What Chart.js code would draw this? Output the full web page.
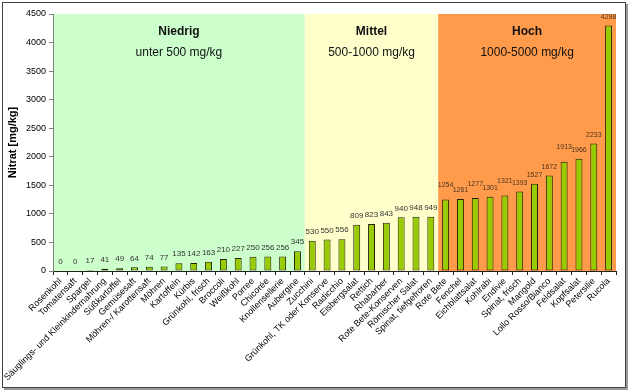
<!DOCTYPE html>
<html>
<head>
<meta charset="utf-8">
<script src="https://cdn.jsdelivr.net/npm/chart.js@4"></script>
<style>
html,body{margin:0;padding:0;background:#fff;}
#wrap{position:relative;width:630px;height:391px;}
#frame{position:absolute;left:2px;top:2px;width:622px;height:384px;border:1px solid #404040;box-shadow:2px 2px 0 #9a9a9a;pointer-events:none;}
</style>
</head>
<body>
<div id="wrap">
<canvas id="chart" width="630" height="391"></canvas>
<div id="frame"></div>
</div>
<script>
const categories=['Rosenkohl','Tomatensaft','Spargel','Säuglings- und Kleinkindernahrung','Süßkartoffel','Gemüsesaft','Möhren-/ Karottensaft','Möhren','Kartoffeln','Kürbis','Grünkohl, frisch','Broccoli','Weißkohl','Porree','Chicorée','Knollensellerie','Aubergine',
'Zucchini','Grünkohl, TK oder Konserve','Radicchio','Eisbergsalat','Rettich','Rhabarber','Rote Bete-Konserven','Römischer Salat','Spinat, tiefgefroren',
'Rote Bete','Fenchel','Eichblattsalat','Kohlrabi','Endivie','Spinat, frisch','Mangold','Lollo Rosso/Bianco','Feldsalat','Kopfsalat','Petersilie','Rucola'];
const nitrat=[0,0,17,41,49,64,74,77,135,142,163,210,227,250,256,256,345,
530,550,556,809,823,843,940,948,949,
1254,1261,1277,1301,1321,1393,1527,1672,1913,1966,2233,4298];
const yTicks=[0,500,1000,1500,2000,2500,3000,3500,4000,4500];
const zoneNames=['Niedrig','Mittel','Hoch'];
const zoneTexts=['unter 500 mg/kg','500-1000 mg/kg','1000-5000 mg/kg'];
const zoneFirst=[0,17,26];
const zoneLast=[16,25,37];
const zoneColors=['#CCFFCC','#FFFFCC','#FF9B4B'];
const FONT='"Liberation Sans", Arial, sans-serif';

const zonePlugin={
  id:'zones',
  beforeDatasetsDraw(chart){
    const {ctx,chartArea:a,scales:{x}}=chart;
    const half=(x.getPixelForValue(1)-x.getPixelForValue(0))/2;
    ctx.save();
    zoneNames.forEach((n,i)=>{
      const l=i===0?a.left:x.getPixelForValue(zoneFirst[i])-half;
      const r=i===zoneNames.length-1?a.right:x.getPixelForValue(zoneLast[i])+half;
      ctx.fillStyle=zoneColors[i];
      ctx.fillRect(l,a.top,r-l,a.bottom-a.top);
      const cx=(l+r)/2;
      ctx.fillStyle='#111';ctx.textAlign='center';ctx.textBaseline='middle';
      ctx.font='bold 12px '+FONT;
      ctx.fillText(n,cx,a.top+18);
      ctx.font='12px '+FONT;
      ctx.fillText(zoneTexts[i],cx,a.top+39);
    });
    ctx.strokeStyle='#808080';ctx.lineWidth=1;
    ctx.beginPath();ctx.moveTo(a.left+0.5,a.top);ctx.lineTo(a.left+0.5,a.bottom);ctx.stroke();
    ctx.restore();
  },
  afterDatasetsDraw(chart){
    const {ctx}=chart;
    const meta=chart.getDatasetMeta(0);
    let next=null;
    ctx.save();
    ctx.textAlign='center';ctx.textBaseline='bottom';
    // right to left, so a crowded label is lifted above its right neighbour's level
    for(let i=meta.data.length-1;i>=0;i--){
      const el=meta.data[i];
      const hoch=i>=zoneFirst[2];
      ctx.fillStyle=hoch?'#4a3420':'#333';
      ctx.font=(hoch?'7px ':'8px ')+FONT;
      const txt=String(nitrat[i]);
      const w=ctx.measureText(txt).width;
      let y=el.y-5, lifted=false;
      if(next && !next.lifted && el.x+w/2>next.l-0.5 && Math.abs(y-next.y)<5){y-=6;lifted=true;}
      ctx.fillText(txt,el.x,y);
      next={l:el.x-w/2,y:y,lifted:lifted};
    }
    ctx.restore();
  }
};

new Chart(document.getElementById('chart'),{
  type:'bar',
  data:{labels:categories,datasets:[{
    data:nitrat,
    backgroundColor:'#99CC00',
    borderColor:'#222200',
    borderWidth:1,
    borderSkipped:false,
    categoryPercentage:1,
    barPercentage:0.47
  }]},
  options:{
    responsive:false,
    animation:false,
    layout:{padding:{top:14,right:14,left:0,bottom:0}},
    plugins:{legend:{display:false},tooltip:{enabled:false}},
    scales:{
      x:{
        afterFit(s){s.height=120;},
        grid:{display:true,drawOnChartArea:false,drawTicks:true,tickLength:4,color:'#222',offset:true},
        border:{display:true,color:'#222'},
        ticks:{autoSkip:false,minRotation:45,maxRotation:45,padding:1,color:'#000',font:{family:FONT,size:9}}
      },
      y:{
        min:0,max:4500,
        afterFit(s){s.width=53;},
        afterBuildTicks(s){s.ticks=yTicks.map(v=>({value:v}));},
        grid:{display:true,drawOnChartArea:false,drawTicks:true,tickLength:4,color:'#808080'},
        border:{display:true,color:'#808080'},
        ticks:{padding:3,color:'#000',callback:v=>String(v),font:{family:FONT,size:9}},
        title:{display:true,text:'Nitrat [mg/kg]',color:'#000',padding:{top:6,bottom:0},font:{family:FONT,size:11,weight:'bold'}}
      }
    }
  },
  plugins:[zonePlugin]
});
</script>
</body>
</html>
